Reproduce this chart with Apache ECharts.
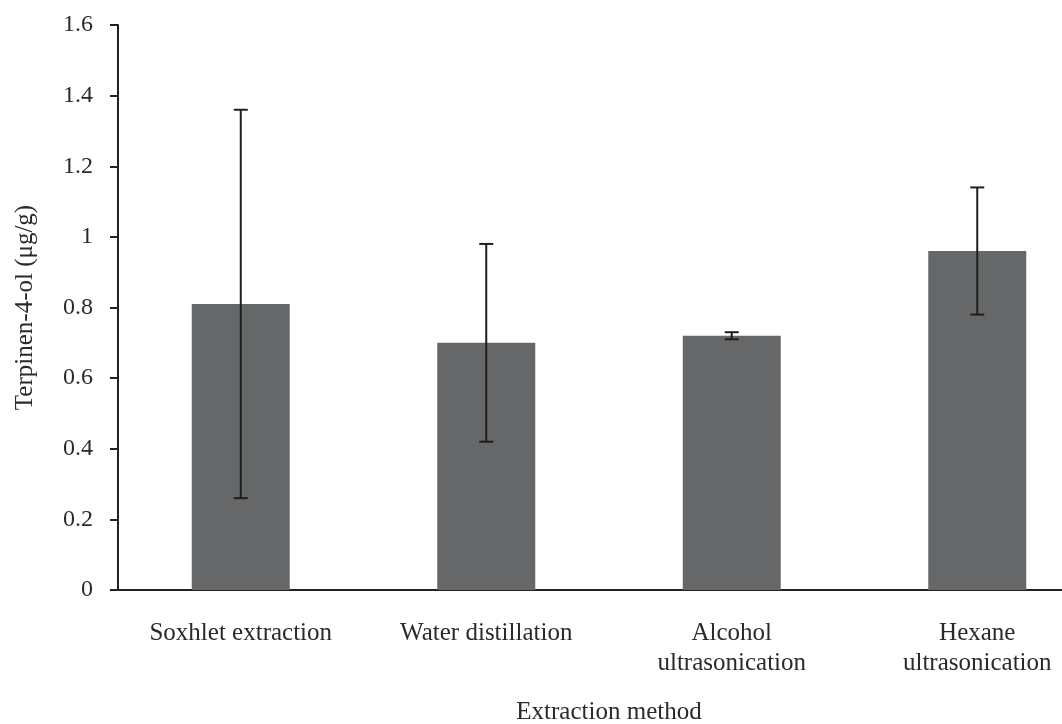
<!DOCTYPE html>
<html>
<head>
<meta charset="utf-8">
<script src="https://cdn.jsdelivr.net/npm/echarts@6/dist/echarts.min.js"></script>
<style>
  html, body { margin: 0; padding: 0; background: #fff; }
  #chart { width: 1062px; height: 724px; }
</style>
</head>
<body>
<div id="chart"></div>
<script>
// 数据
const methods = ['Soxhlet extraction', 'Water distillation', 'Alcohol\nultrasonication', 'Hexane\nultrasonication'];
const means = [0.81, 0.70, 0.72, 0.96];
const errLow = [0.26, 0.42, 0.71, 0.78];
const errHigh = [1.36, 0.98, 0.73, 1.14];

const FONT = '"Liberation Serif", "DejaVu Serif", serif';
const TEXT = '#2a2a2a';
const chart = echarts.init(document.getElementById('chart'));

const errorData = methods.map((m, i) => [i, errLow[i], errHigh[i]]);

const option = {
  backgroundColor: '#fff',
  animation: false,
  grid: {
    left: 118,
    top: 25,
    width: 982,
    height: 565,
    containLabel: false,
    outerBoundsMode: 'none'
  },
  xAxis: {
    type: 'category',
    data: methods,
    name: 'Extraction method',
    nameLocation: 'middle',
    nameGap: 110,
    nameTextStyle: { fontFamily: FONT, fontSize: 25, color: TEXT },
    axisLine: { lineStyle: { color: '#222', width: 2 } },
    axisTick: { show: false },
    axisLabel: {
      fontFamily: FONT,
      fontSize: 25,
      color: TEXT,
      margin: 28,
      lineHeight: 30,
      interval: 0
    }
  },
  yAxis: {
    type: 'value',
    min: 0,
    max: 1.6,
    interval: 0.2,
    name: 'Terpinen-4-ol (μg/g)',
    nameLocation: 'middle',
    nameGap: 80,
    nameRotate: 90,
    nameTextStyle: { fontFamily: FONT, fontSize: 25, color: TEXT },
    axisLine: { show: true, lineStyle: { color: '#222', width: 2 } },
    axisTick: { show: true, inside: false, length: 8, lineStyle: { color: '#222', width: 2 } },
    splitLine: { show: false },
    axisLabel: {
      fontFamily: FONT,
      fontSize: 24,
      color: TEXT,
      margin: 25,
      formatter: v => String(Math.round(v * 10) / 10)
    }
  },
  series: [
    {
      type: 'bar',
      data: means,
      barWidth: 98,
      itemStyle: { color: '#666769' },
      z: 2
    },
    {
      type: 'custom',
      data: errorData,
      z: 3,
      renderItem: (params, api) => {
        const i = api.value(0);
        const lo = api.coord([i, api.value(1)]);
        const hi = api.coord([i, api.value(2)]);
        const cap = 7;
        const style = { stroke: '#1e1e1e', lineWidth: 2 };
        return {
          type: 'group',
          children: [
            { type: 'line', shape: { x1: hi[0], y1: hi[1], x2: lo[0], y2: lo[1] }, style },
            { type: 'line', shape: { x1: hi[0] - cap, y1: hi[1], x2: hi[0] + cap, y2: hi[1] }, style },
            { type: 'line', shape: { x1: lo[0] - cap, y1: lo[1], x2: lo[0] + cap, y2: lo[1] }, style }
          ]
        };
      }
    }
  ]
};

chart.setOption(option);
</script>
</body>
</html>
